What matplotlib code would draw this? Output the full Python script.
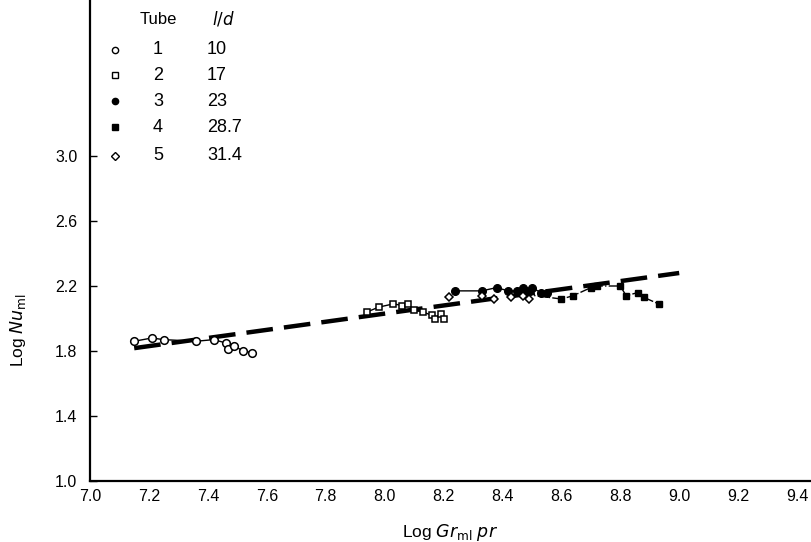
import numpy as np
import matplotlib
matplotlib.use("Agg")
import matplotlib.pyplot as plt
from matplotlib.lines import Line2D

plt.rcParams['font.family'] = ['Liberation Sans', 'DejaVu Sans']

# Tube data: log(Gr_ml * Pr) and log(Nu_ml)
tube1_x = [7.15, 7.21, 7.25, 7.36, 7.42, 7.46, 7.47, 7.49, 7.52, 7.55]
tube1_y = [1.86, 1.88, 1.87, 1.86, 1.87, 1.85, 1.81, 1.83, 1.80, 1.79]

tube2_x = [7.94, 7.98, 8.03, 8.06, 8.08, 8.10, 8.13, 8.16, 8.17, 8.19, 8.20]
tube2_y = [2.04, 2.07, 2.09, 2.08, 2.09, 2.05, 2.04, 2.02, 2.00, 2.03, 2.00]

tube3_x = [8.24, 8.33, 8.38, 8.42, 8.45, 8.47, 8.48, 8.50, 8.53, 8.55]
tube3_y = [2.17, 2.17, 2.19, 2.17, 2.17, 2.19, 2.17, 2.19, 2.16, 2.16]

tube4_x = [8.47, 8.60, 8.64, 8.70, 8.72, 8.80, 8.82, 8.86, 8.88, 8.93]
tube4_y = [2.15, 2.12, 2.14, 2.19, 2.20, 2.20, 2.14, 2.16, 2.13, 2.09]

tube5_x = [8.22, 8.33, 8.37, 8.43, 8.47, 8.49]
tube5_y = [2.13, 2.14, 2.12, 2.13, 2.14, 2.12]

# Correlation line: log Nu = slope * log(Gr Pr) + intercept
corr_slope = 0.25
corr_intercept = 0.03
corr_range = [7.15, 9.0]

tube_ids = ['1', '2', '3', '4', '5']
tube_ld = ['10', '17', '23', '28.7', '31.4']

xticks = [7.0, 7.2, 7.4, 7.6, 7.8, 8.0, 8.2, 8.4, 8.6, 8.8, 9.0, 9.2, 9.4]
yticks = [1.0, 1.4, 1.8, 2.2, 2.6, 3.0]

fig = plt.figure(figsize=(8.12, 5.42), dpi=100)
ax = fig.add_axes([90 / 812, 1 - 481 / 542, 720 / 812, 481 / 542])
ax.set_xlim(7.0, 7.0 + 720 / 294.6)
ax.set_ylim(1.0, 1.0 + 481 / 162.5)

for s in ['top', 'right']:
    ax.spines[s].set_visible(False)
for s in ['left', 'bottom']:
    ax.spines[s].set_linewidth(1.6)

ax.set_xticks(xticks)
ax.set_xticklabels([f'{v:.1f}' for v in xticks], fontsize=11.5)
ax.set_yticks(yticks)
ax.set_yticklabels([f'{v:.1f}' for v in yticks], fontsize=11.5)
ax.tick_params(axis='y', direction='in', length=5, width=1.0, pad=9)
ax.tick_params(axis='x', direction='in', length=0, pad=6)

# correlation (dashed)
cx = np.array(corr_range)
ax.plot(cx, corr_slope * cx + corr_intercept, color='black', lw=3.2,
        dashes=(6, 2.5), solid_capstyle='butt', zorder=2)

# faired curves through each tube's data
ax.plot(tube1_x, tube1_y, color='black', lw=1.0, zorder=2)
ax.plot(tube2_x, tube2_y, color='black', lw=1.0, zorder=2)
ax.plot(tube3_x, tube3_y, color='black', lw=1.0, zorder=2)
ax.plot(tube4_x, tube4_y, color='black', lw=1.0, ls='-.', zorder=2)

ms = 5.5
ax.plot(tube1_x, tube1_y, 'o', ms=ms, mfc='white', mec='black', mew=1.1, zorder=3)
ax.plot(tube2_x, tube2_y, 's', ms=ms - 0.5, mfc='white', mec='black', mew=1.1, zorder=3)
ax.plot(tube3_x, tube3_y, 'o', ms=ms, mfc='black', mec='black', zorder=3)
ax.plot(tube4_x, tube4_y, 's', ms=ms - 0.5, mfc='black', mec='black', zorder=3)
ax.plot(tube5_x, tube5_y, 'D', ms=ms - 1, mfc='white', mec='black', mew=1.1, zorder=3)

ax.set_xlabel(r'Log $\mathit{Gr}_{\mathrm{ml}}$ $\mathit{pr}$', fontsize=12.5)
ax.xaxis.set_label_coords((450 - 90) / 720, -(522 - 481) / 481)
ax.set_ylabel(r'Log $\mathit{Nu}_{\mathrm{ml}}$', fontsize=12.5)
ax.yaxis.set_label_coords((28 - 90) / 720, 1 - 330 / 481)

# key table
fx = lambda px: px / 812
fy = lambda py: 1 - py / 542
fig.text(fx(158), fy(19), 'Tube', fontsize=12, ha='center', va='center')
fig.text(fx(212), fy(19), r'$\mathit{l/d}$', fontsize=12, ha='left', va='center')
markers = [('o', 'white'), ('s', 'white'), ('o', 'black'), ('s', 'black'), ('D', 'white')]
row_y = [50, 75, 101, 127, 156]
for (m, fc), tid, ld, ry in zip(markers, tube_ids, tube_ld, row_y):
    fig.add_artist(Line2D([fx(115)], [fy(ry)], marker=m, ms=4.5 if m != 'D' else 4,
                          mfc=fc, mec='black', mew=1.0, transform=fig.transFigure))
    fig.text(fx(158), fy(ry), tid, fontsize=13, ha='center', va='center')
    fig.text(fx(207), fy(ry), ld, fontsize=13, ha='left', va='center')

fig.savefig('out.png', dpi=100)
